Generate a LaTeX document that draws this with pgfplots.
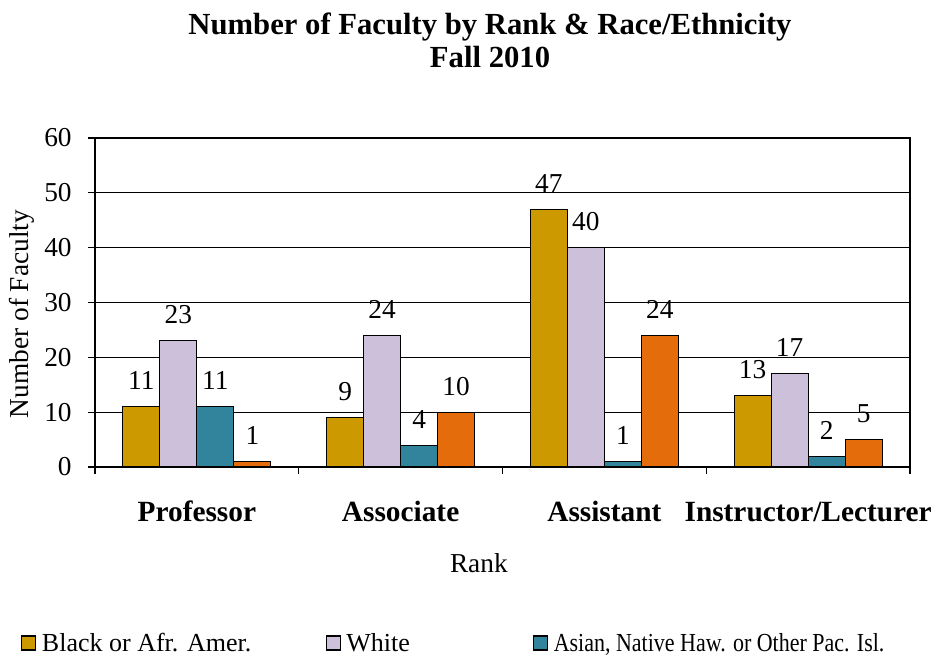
\documentclass[border=0pt]{standalone}
\usepackage{graphicx}
\usepackage{pgfplots}
\pgfplotsset{compat=1.18}
\usepackage{fontspec}
\setmainfont{Liberation Serif}
\definecolor{cGold}{HTML}{CC9900}
\definecolor{cLav}{HTML}{CCC0DA}
\definecolor{cTeal}{HTML}{31849B}
\definecolor{cOrange}{HTML}{E46C0A}
\begin{document}
\begin{tikzpicture}
\useasboundingbox (-71.25pt,-145.5pt) rectangle (632.25pt,350.25pt);
\begin{axis}[
  scale only axis, width=611.25pt, height=246.75pt,
  ybar=0pt, bar width=27.75pt,
  xmin=-0.5, xmax=3.5, ymin=0, ymax=60, ytick={0,10,...,60},
  xtick={0,1,2,3},
  xticklabels={Professor,Associate,Assistant,Instructor/Lecturer},
  minor xtick={-0.5,0.5,1.5,2.5,3.5},
  major x tick style={draw=none},
  tick align=outside, tick pos=left,
  major tick length=5pt, minor tick length=5pt,
  tick style={black, line width=0.8pt},
  ymajorgrids, grid style={black, line width=0.6pt},
  axis line style={line width=0.9pt},
  /pgf/number format/assume math mode=true,
  yticklabel style={font=\fontsize{20.5}{22}\selectfont, xshift=-9pt},
  xticklabel style={font=\bfseries\fontsize{22}{24}\selectfont, anchor=base, yshift=-36pt},
  ylabel={Number of Faculty},
  ylabel style={at={(axis description cs:-0.0896,0.465)}, anchor=center, rotate=0, font=\fontsize{20.5}{22}\selectfont},
  xlabel={Rank},
  xlabel style={at={(axis description cs:0.471,-0.292)}, anchor=center, font=\fontsize{20.5}{22}\selectfont},
  title={Number of Faculty by Rank \& Race/Ethnicity\\Fall 2010},
  title style={at={(axis description cs:0.4847,1.272)}, anchor=center, align=center, font=\bfseries\fontsize{23}{24.75}\selectfont},
  nodes near coords,
  every node near coord/.append style={anchor=center, yshift=19.5pt, font=\fontsize{20.5}{22}\selectfont, black},
  every axis plot/.append style={draw=black, line width=0.8pt},
  legend style={at={(axis description cs:-0.0957,-0.535)}, anchor=west, draw=none, fill=none,
    legend columns=-1, font=\fontsize{19.5}{21}\selectfont, column sep=0pt,
    /tikz/every even column/.append style={column sep=0pt}},
  legend image code/.code={\draw[#1, draw=black, line width=0.8pt] (0pt,-5.25pt) rectangle (10.5pt,5.25pt);},
]
\addplot[fill=cGold] coordinates {(0,11) (1,9) (2,47) (3,13)};
\addlegendentry{\hspace{2.25pt}\makebox[210.75pt][l]{Black or Afr. Amer.}}
\addplot[fill=cLav] coordinates {(0,23) (1,24) (2,40) (3,17)};
\addlegendentry{\hspace{2.25pt}\makebox[138pt][l]{White}}
\addplot[fill=cTeal] coordinates {(0,11) (1,4) (2,1) (3,2)};
\addlegendentry{\hspace{2.25pt}\resizebox{248pt}{\height}{Asian, Native Haw. or Other Pac. Isl.}}
\addplot[fill=cOrange] coordinates {(0,1) (1,10) (2,24) (3,5)};
\draw[line width=1.5pt] (rel axis cs:0,0) -- (rel axis cs:1,0);
\end{axis}
\end{tikzpicture}
\end{document}
